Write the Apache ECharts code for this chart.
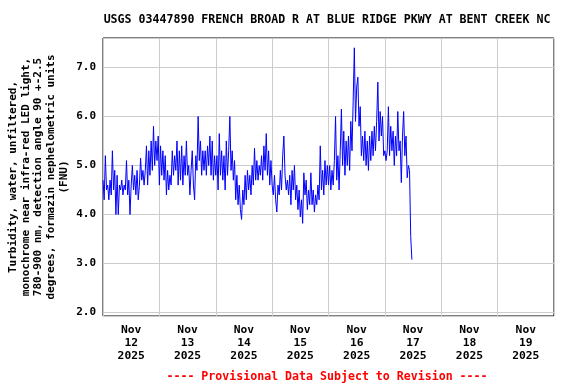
<!DOCTYPE html>
<html>
<head>
<meta charset="utf-8">
<script src="https://cdn.jsdelivr.net/npm/echarts@6/dist/echarts.min.js"></script>
<style>
html,body{margin:0;padding:0;background:#fff;}
#chart{width:576px;height:384px;}
</style>
</head>
<body>
<div id="chart"></div>
<script>
const titleText = 'USGS 03447890 FRENCH BROAD R AT BLUE RIDGE PKWY AT BENT CREEK NC';
const footerText = '---- Provisional Data Subject to Revision ----';
const yAxisName = 'Turbidity, water, unfiltered,\nmonochrome near infra-red LED light,\n780-900 nm, detection angle 90 +-2.5\ndegrees, formazin nephelometric units\n(FNU)';
const dayLabels = ['Nov\n12\n2025','Nov\n13\n2025','Nov\n14\n2025','Nov\n15\n2025','Nov\n16\n2025','Nov\n17\n2025','Nov\n18\n2025','Nov\n19\n2025'];
const stepHours = 0.5; // sampling step, starting Nov 12 00:00
const nov12 = [4.7,4.3,5.2,4.5,4.6,4.3,4.7,4.4,5.3,4.5,4.9,4.0,4.8,4.0,4.6,4.5,4.7,4.4,4.6,4.5,5.1,4.4,4.7,4.0,
  4.6,5.0,4.5,4.8,4.4,4.9,4.3,4.6,5.15,4.7,4.9,4.6,4.9,5.4,4.6,5.3,4.8,5.5,4.9,5.8,5.0,5.5,5.1,5.6];
const nov13 = [4.6,5.4,4.8,5.3,4.7,5.2,4.4,4.9,4.5,4.8,4.6,5.3,4.8,5.2,4.9,5.5,4.6,5.3,4.7,5.4,4.6,5.2,4.8,5.5,
  4.8,5.0,4.4,4.9,5.3,4.6,4.3,5.2,4.9,6.0,5.1,5.5,4.8,5.3,4.9,5.3,4.8,5.4,5.0,5.6,4.8,5.5,4.7,5.2];
const nov14 = [4.8,5.2,4.5,5.65,4.8,5.3,4.7,5.2,4.5,5.5,4.8,5.3,6.0,4.9,5.3,4.7,5.1,4.3,4.8,4.2,4.6,4.1,3.9,4.5,
  4.2,4.8,4.3,4.9,4.5,4.8,4.4,5.0,4.6,5.35,4.7,5.1,4.7,5.0,4.8,5.2,4.7,5.4,4.9,5.65,4.8,5.3,4.6,5.1];
const nov15 = [4.6,4.4,4.8,4.3,4.05,4.6,4.4,4.9,4.5,5.2,5.6,4.8,4.5,4.7,4.4,4.8,4.2,4.9,4.5,5.0,4.3,4.6,4.1,4.5,
  3.95,4.3,3.82,4.85,4.4,4.7,4.1,4.5,4.2,4.85,4.2,4.5,4.05,4.4,4.2,4.6,4.3,5.4,4.5,4.9,4.4,5.1,4.6,5.0];
const nov16 = [4.6,5.0,4.5,4.9,4.6,5.1,6.0,4.7,5.2,4.5,5.3,6.15,5.0,5.7,4.8,5.5,5.0,5.6,4.9,5.9,5.3,6.3,7.4,5.9,
  6.6,6.8,5.8,6.2,5.2,5.6,5.1,5.7,5.0,5.5,4.9,5.6,5.1,5.7,5.2,5.8,5.3,5.9,6.7,5.5,6.1,5.6,6.0,5.2];
const nov17 = [5.3,5.1,5.3,6.2,5.2,5.8,5.3,5.7,5.0,5.6,5.2,6.1,5.3,5.5,4.65,5.6,6.1,5.2,5.6,4.75,5.0,4.9,3.55,3.08];

const values = [].concat(nov12, nov13, nov14, nov15, nov16, nov17);
const seriesData = values.map((v, i) => [i * stepHours, v]);

const FONT = 'DejaVu Sans Mono';
const chart = echarts.init(document.getElementById('chart'), null, {renderer: 'canvas'});
chart.setOption({
  animation: false,
  backgroundColor: '#ffffff',
  title: [
    {text: titleText, left: 322, top: 9, textAlign: 'center',
     textStyle: {fontFamily: FONT, fontWeight: 'bold', fontSize: 11.6, color: '#000'}},
    {text: footerText, left: 322, top: 366, textAlign: 'center',
     textStyle: {fontFamily: FONT, fontWeight: 'bold', fontSize: 11.6, color: '#ff0000'}}
  ],
  grid: {left: 103, right: 22, top: 38, bottom: 68, containLabel: false, outerBoundsMode: 'none',
    show: true, borderColor: '#000', borderWidth: 1, backgroundColor: 'transparent'},
  xAxis: [
    {type: 'value', min: 0, max: 192, interval: 24,
     axisLine: {show: false}, axisTick: {show: false}, axisLabel: {show: false},
     splitLine: {show: true, lineStyle: {color: '#cccccc', width: 1}}},
    {type: 'category', data: dayLabels, position: 'bottom', boundaryGap: true,
     axisLine: {show: false}, axisTick: {show: false}, splitLine: {show: false},
     axisLabel: {margin: 8, interval: 0, fontFamily: FONT, fontWeight: 'bold', fontSize: 11.3, color: '#000', lineHeight: 13}}
  ],
  yAxis: {
    type: 'value', min: 1.93, max: 7.6,
    name: yAxisName, nameLocation: 'middle', nameRotate: 90, nameGap: 33, nameMoveOverlap: false,
    nameTextStyle: {fontFamily: FONT, fontWeight: 'bold', fontSize: 11, color: '#000', lineHeight: 12.6, align: 'center'},
    axisLine: {show: false}, axisTick: {show: false},
    axisLabel: {margin: 7, fontFamily: FONT, fontWeight: 'bold', fontSize: 11, color: '#000',
      showMinLabel: false, showMaxLabel: false,
      formatter: v => Math.abs(v - Math.round(v)) < 1e-6 ? v.toFixed(1) : ''},
    splitLine: {show: true, lineStyle: {color: '#cccccc', width: 1}}
  },
  series: [{
    type: 'line', xAxisIndex: 0, data: seriesData, showSymbol: false, symbol: 'none',
    lineStyle: {color: '#0000ff', width: 1}, itemStyle: {color: '#0000ff'}, z: 3
  }]
});
</script>
</body>
</html>
